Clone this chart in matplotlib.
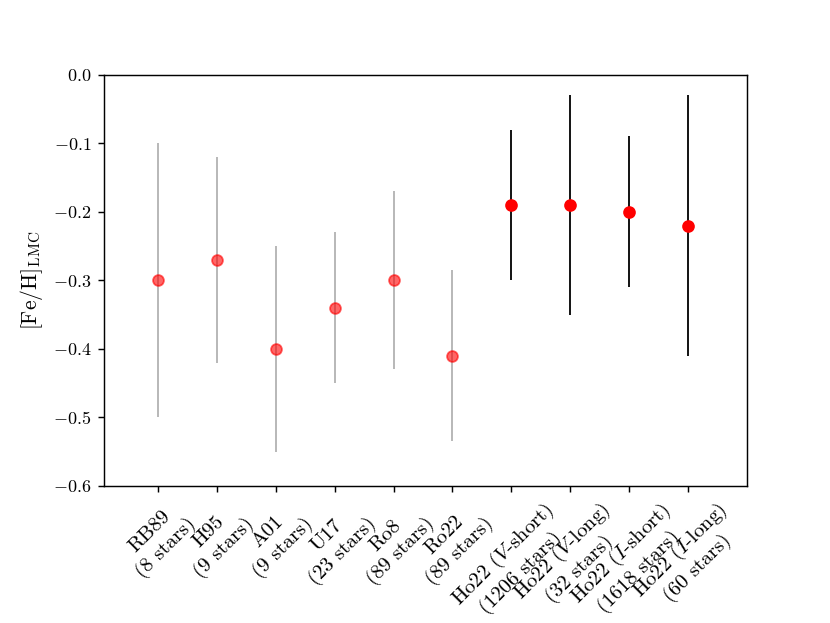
import matplotlib
matplotlib.use("Agg")
import matplotlib.pyplot as plt
import numpy as np

plt.rcParams.update({
    "font.family": "serif",
    "font.serif": ["cmr10"],
    "mathtext.fontset": "cm",
    "axes.formatter.use_mathtext": True,
    "font.size": 10,
})

# literature values (grey) and Ho22 values (black)
lit_labels = ["RB89\n(8 stars)", "H95\n(9 stars)", "A01\n(9 stars)",
              "U17\n(23 stars)", "Ro8\n(89 stars)", "Ro22\n(89 stars)"]
lit_feh = [-0.30, -0.27, -0.40, -0.34, -0.30, -0.41]
lit_err = [0.20, 0.15, 0.15, 0.11, 0.13, 0.125]

ho_labels = ["Ho22 ($V$-short)\n(1206 stars)", "Ho22 ($V$-long)\n(32 stars)",
             "Ho22 ($I$-short)\n(1618 stars)", "Ho22 ($I$-long)\n(60 stars)"]
ho_feh = [-0.19, -0.19, -0.20, -0.22]
ho_err = [0.11, 0.16, 0.11, 0.19]

x_lit = np.arange(len(lit_feh))
x_ho = np.arange(len(ho_feh)) + len(lit_feh)

fig, ax = plt.subplots(figsize=(830 / 130, 623 / 130), dpi=130)
fig.subplots_adjust(bottom=0.22)

ax.errorbar(x_lit, lit_feh, yerr=lit_err, fmt="o", color="red",
            ecolor="gray", elinewidth=1.0, markersize=6, alpha=0.6)
ax.errorbar(x_ho, ho_feh, yerr=ho_err, fmt="o", color="red", ecolor="k",
            elinewidth=1.0, markersize=6)

ax.set_xticks(np.concatenate([x_lit, x_ho]))
ax.set_xticklabels(lit_labels + ho_labels, rotation=45, fontsize=11.5)
ax.set_xlim(-0.92, 10.0)
ax.set_ylim(-0.6, 0.0)
ax.set_ylabel(r"$[\mathrm{Fe/H}]_\mathrm{LMC}$", fontsize=12)

fig.savefig("out.png", dpi=130)
